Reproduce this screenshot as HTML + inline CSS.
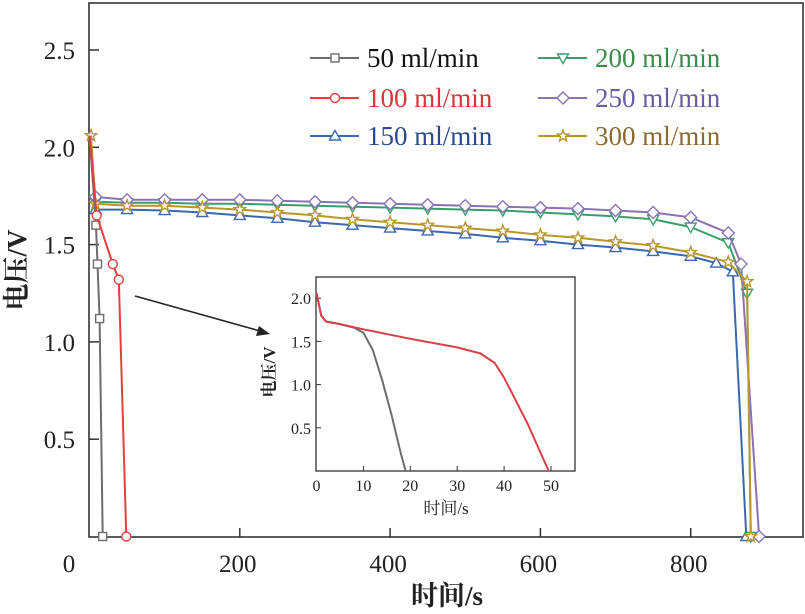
<!DOCTYPE html>
<html><head><meta charset="utf-8"><style>
html,body{margin:0;padding:0;background:#fff;}
svg{display:block;font-family:"Liberation Serif","Noto Serif CJK SC",serif;}
</style></head><body>
<svg id="chart" width="805" height="614" viewBox="0 0 805 614" xmlns="http://www.w3.org/2000/svg">
<rect x="0" y="0" width="805" height="614" fill="#fff"/>
<g id="main"></g>
<g id="inset"></g>
</svg>
<script>
// Main chart data
const xTicks = [0, 200, 400, 600, 800];
const yTicks = [0.5, 1.0, 1.5, 2.0, 2.5];
const yTickLabels = ["0.5", "1.0", "1.5", "2.0", "2.5"];
const s50T = [8.6, 10.6, 13.5, 17.5];
const s50V = [1.60, 1.40, 1.12, 0];
const s100T = [9.6, 31, 39, 49];
const s100V = [1.65, 1.40, 1.32, 0];
const mainT = [8, 50, 100, 150, 200, 250, 300, 350, 400, 450, 500, 550, 600, 650, 700, 750, 800];
const s150V = [1.68, 1.68, 1.675, 1.665, 1.65, 1.635, 1.615, 1.60, 1.585, 1.57, 1.555, 1.535, 1.52, 1.50, 1.485, 1.465, 1.44];
const s150Tail = [[834, 1.405], [856, 1.36], [874, 0]];
const s200V = [1.72, 1.715, 1.715, 1.71, 1.71, 1.705, 1.70, 1.695, 1.69, 1.685, 1.68, 1.675, 1.665, 1.655, 1.645, 1.63, 1.59];
const s200Tail = [[850, 1.51], [875, 1.25], [880, 0]];
const s250V = [1.745, 1.73, 1.73, 1.73, 1.73, 1.725, 1.72, 1.715, 1.71, 1.705, 1.70, 1.695, 1.69, 1.685, 1.675, 1.665, 1.64];
const s250Tail = [[850, 1.56], [867, 1.40], [891, 0]];
const s300V = [1.71, 1.70, 1.70, 1.69, 1.68, 1.665, 1.65, 1.63, 1.615, 1.60, 1.585, 1.57, 1.55, 1.535, 1.515, 1.495, 1.46];
const s300Tail = [[850, 1.41], [875, 1.31], [880, 0]];
// Inset data
const insXTicks = [0, 10, 20, 30, 40, 50];
const insYTicks = [0.5, 1.0, 1.5, 2.0];
const insGrayT = [0, 1, 2, 5, 8, 10, 12, 14, 16, 18, 19];
const insGrayV = [2.06, 1.80, 1.73, 1.70, 1.66, 1.60, 1.40, 1.05, 0.65, 0.20, 0];
const insRedT = [0, 1, 2, 5, 10, 20, 30, 35, 38, 40, 45, 49.5];
const insRedV = [2.06, 1.80, 1.73, 1.70, 1.64, 1.53, 1.43, 1.36, 1.25, 1.08, 0.55, 0];

const NS = "http://www.w3.org/2000/svg";
function mk(parent, tag, attrs) {
  const e = document.createElementNS(NS, tag);
  for (const k in attrs) e.setAttribute(k, attrs[k]);
  parent.appendChild(e);
  return e;
}
const X = t => 89.5 + t * 0.7515;
const Y = v => 536.5 - v * 194.6;
const main = document.getElementById('main');

function marker(g, type, x, y, color) {
  let e;
  if (type === 'square') e = mk(g, 'rect', {x: x - 4, y: y - 4, width: 8, height: 8});
  else if (type === 'circle') e = mk(g, 'circle', {cx: x, cy: y, r: 4.5});
  else if (type === 'tri') e = mk(g, 'polygon', {points: `${x},${y-5.5} ${x-5.5},${y+4} ${x+5.5},${y+4}`});
  else if (type === 'tridown') e = mk(g, 'polygon', {points: `${x},${y+5.5} ${x-5.5},${y-4} ${x+5.5},${y-4}`});
  else if (type === 'diamond') e = mk(g, 'polygon', {points: `${x},${y-6} ${x+6},${y} ${x},${y+6} ${x-6},${y}`});
  else {
    let p = [];
    for (let i = 0; i < 10; i++) { const r = i % 2 ? 2.5 : 6; const a = -Math.PI / 2 + i * Math.PI / 5; p.push((x + r * Math.cos(a)).toFixed(1) + ',' + (y + r * Math.sin(a)).toFixed(1)); }
    e = mk(g, 'polygon', {points: p.join(' ')});
  }
  e.setAttribute('fill', '#fff'); e.setAttribute('stroke', color); e.setAttribute('stroke-width', '1.4');
  
  
}

function series(name, pts, color, type, extraStart) {
  const g = mk(main, 'g', {});
  
  
  const all = extraStart ? [extraStart].concat(pts) : pts;
  const pl = mk(g, 'polyline', {points: all.map(p => X(p[0]).toFixed(1) + ',' + Y(p[1]).toFixed(1)).join(' '), fill: 'none', stroke: color, 'stroke-width': 2});
  
  
  pts.forEach(p => marker(g, type, X(p[0]), Y(p[1]), color));
}
const zip = (t, v) => t.map((x, i) => [x, v[i]]);

const frame = mk(main, 'rect', {x: 89, y: 3, width: 714, height: 534, fill: 'none', stroke: '#333', 'stroke-width': 1.6});


xTicks.forEach((t, i) => {
  if (t > 0) {
    const tk = mk(main, 'line', {x1: X(t), x2: X(t), y1: 537, y2: 528, stroke: '#333', 'stroke-width': 1.5});
    
    
  }
  const lb = mk(main, 'text', {x: t === 0 ? 69 : X(t) - 2, y: 572, 'text-anchor': 'middle', 'font-size': 25, fill: '#222'});
  lb.textContent = String(t);
  
  
});
yTicks.forEach((v, i) => {
  const tk = mk(main, 'line', {x1: 89, x2: 99, y1: Y(v), y2: Y(v), stroke: '#333', 'stroke-width': 1.5});
  
  
  const lb = mk(main, 'text', {x: 75, y: Y(v) + 9, 'text-anchor': 'end', 'font-size': 25, fill: '#222'});
  lb.textContent = yTickLabels[i];
  
  
});
const xt = mk(main, 'text', {x: 447, y: 605, 'text-anchor': 'middle', 'font-size': 27, 'font-weight': 'bold', fill: '#222'});
xt.textContent = '时间/s';


const yt = mk(main, 'text', {x: 0, y: 0, transform: 'translate(26,270) rotate(-90)', 'text-anchor': 'middle', 'font-size': 27, 'font-weight': 'bold', fill: '#222'});
yt.textContent = '电压/V';



series('series-150', zip(mainT, s150V).concat(s150Tail), '#3a68ae', 'tri', [0, 2.06]);
series('series-200', zip(mainT, s200V).concat(s200Tail), '#3a9e6a', 'tridown', [0, 2.06]);
series('series-250', zip(mainT, s250V).concat(s250Tail), '#8a72b5', 'diamond', [0, 2.06]);
series('series-300', zip(mainT, s300V).concat(s300Tail), '#b8962e', 'star', null);
series('series-300-start', [[2, 2.06]], '#b8962e', 'star', null);
mk(main, 'line', {x1: X(2), y1: Y(2.06), x2: X(8), y2: Y(1.71), stroke: '#b8962e', 'stroke-width': 2});
series('series-50', zip(s50T, s50V), '#6d6d6d', 'square', [0, 2.06]);
series('series-100', zip(s100T, s100V), '#e0403f', 'circle', [0, 2.06]);

const legend = [
  ['50 ml/min', '#6d6d6d', '#111', 'square', 310, 58],
  ['100 ml/min', '#e0403f', '#d8363a', 'circle', 310, 98],
  ['150 ml/min', '#3a68ae', '#2b4a8e', 'tri', 310, 136],
  ['200 ml/min', '#3a9e6a', '#3a8a4a', 'tridown', 538, 58],
  ['250 ml/min', '#8a72b5', '#6a5aa0', 'diamond', 538, 98],
  ['300 ml/min', '#b8962e', '#8a6a32', 'star', 538, 136]
];
legend.forEach(l => {
  const g = mk(main, 'g', {});
  
  
  mk(g, 'line', {x1: l[4], x2: l[4] + 49, y1: l[5], y2: l[5], stroke: l[1], 'stroke-width': 2});
  marker(g, l[3], l[4] + 25, l[5], l[1]);
  const t = mk(g, 'text', {x: l[4] + 57, y: l[5] + 9, 'font-size': 27, fill: l[2]});
  t.textContent = l[0];
});

const ar = mk(main, 'g', {});


mk(ar, 'line', {x1: 135, y1: 296, x2: 260, y2: 331, stroke: '#222', 'stroke-width': 1.6});
mk(ar, 'polygon', {points: '270,334 256,336 259,326', fill: '#222'});

const ins = document.getElementById('inset');
const IX = t => 316.5 + t * 4.69;
const IY = v => 471 - v * 86.4;
const ib = mk(ins, 'rect', {x: 316, y: 277, width: 259, height: 194, fill: '#fff', stroke: '#333', 'stroke-width': 1.3});


insXTicks.forEach(t => {
  if (t > 0) mk(ins, 'line', {x1: IX(t), x2: IX(t), y1: 471, y2: 466, stroke: '#333', 'stroke-width': 1});
  const lb = mk(ins, 'text', {x: IX(t), y: 491, 'text-anchor': 'middle', 'font-size': 16, fill: '#222'});
  lb.textContent = String(t);
  
  
});
insYTicks.forEach(v => {
  mk(ins, 'line', {x1: 316, x2: 321, y1: IY(v), y2: IY(v), stroke: '#333', 'stroke-width': 1});
  const lb = mk(ins, 'text', {x: 311, y: IY(v) + 6, 'text-anchor': 'end', 'font-size': 16, fill: '#222'});
  lb.textContent = v.toFixed(1);
  
  
});
const ixt = mk(ins, 'text', {x: 446, y: 514, 'text-anchor': 'middle', 'font-size': 17, fill: '#222'});
ixt.textContent = '时间/s';


const iyt = mk(ins, 'text', {x: 0, y: 0, transform: 'translate(275,372) rotate(-90)', 'text-anchor': 'middle', 'font-size': 17, 'font-weight': 'bold', fill: '#222'});
iyt.textContent = '电压/V';


const ig = mk(ins, 'polyline', {points: insGrayT.map((t, i) => IX(t).toFixed(1) + ',' + IY(insGrayV[i]).toFixed(1)).join(' '), fill: 'none', stroke: '#6d6d6d', 'stroke-width': 2, 'stroke-linejoin': 'round'});


const ir = mk(ins, 'polyline', {points: insRedT.map((t, i) => IX(t).toFixed(1) + ',' + IY(insRedV[i]).toFixed(1)).join(' '), fill: 'none', stroke: '#d8404a', 'stroke-width': 2, 'stroke-linejoin': 'round'});


</script>
</body></html>
